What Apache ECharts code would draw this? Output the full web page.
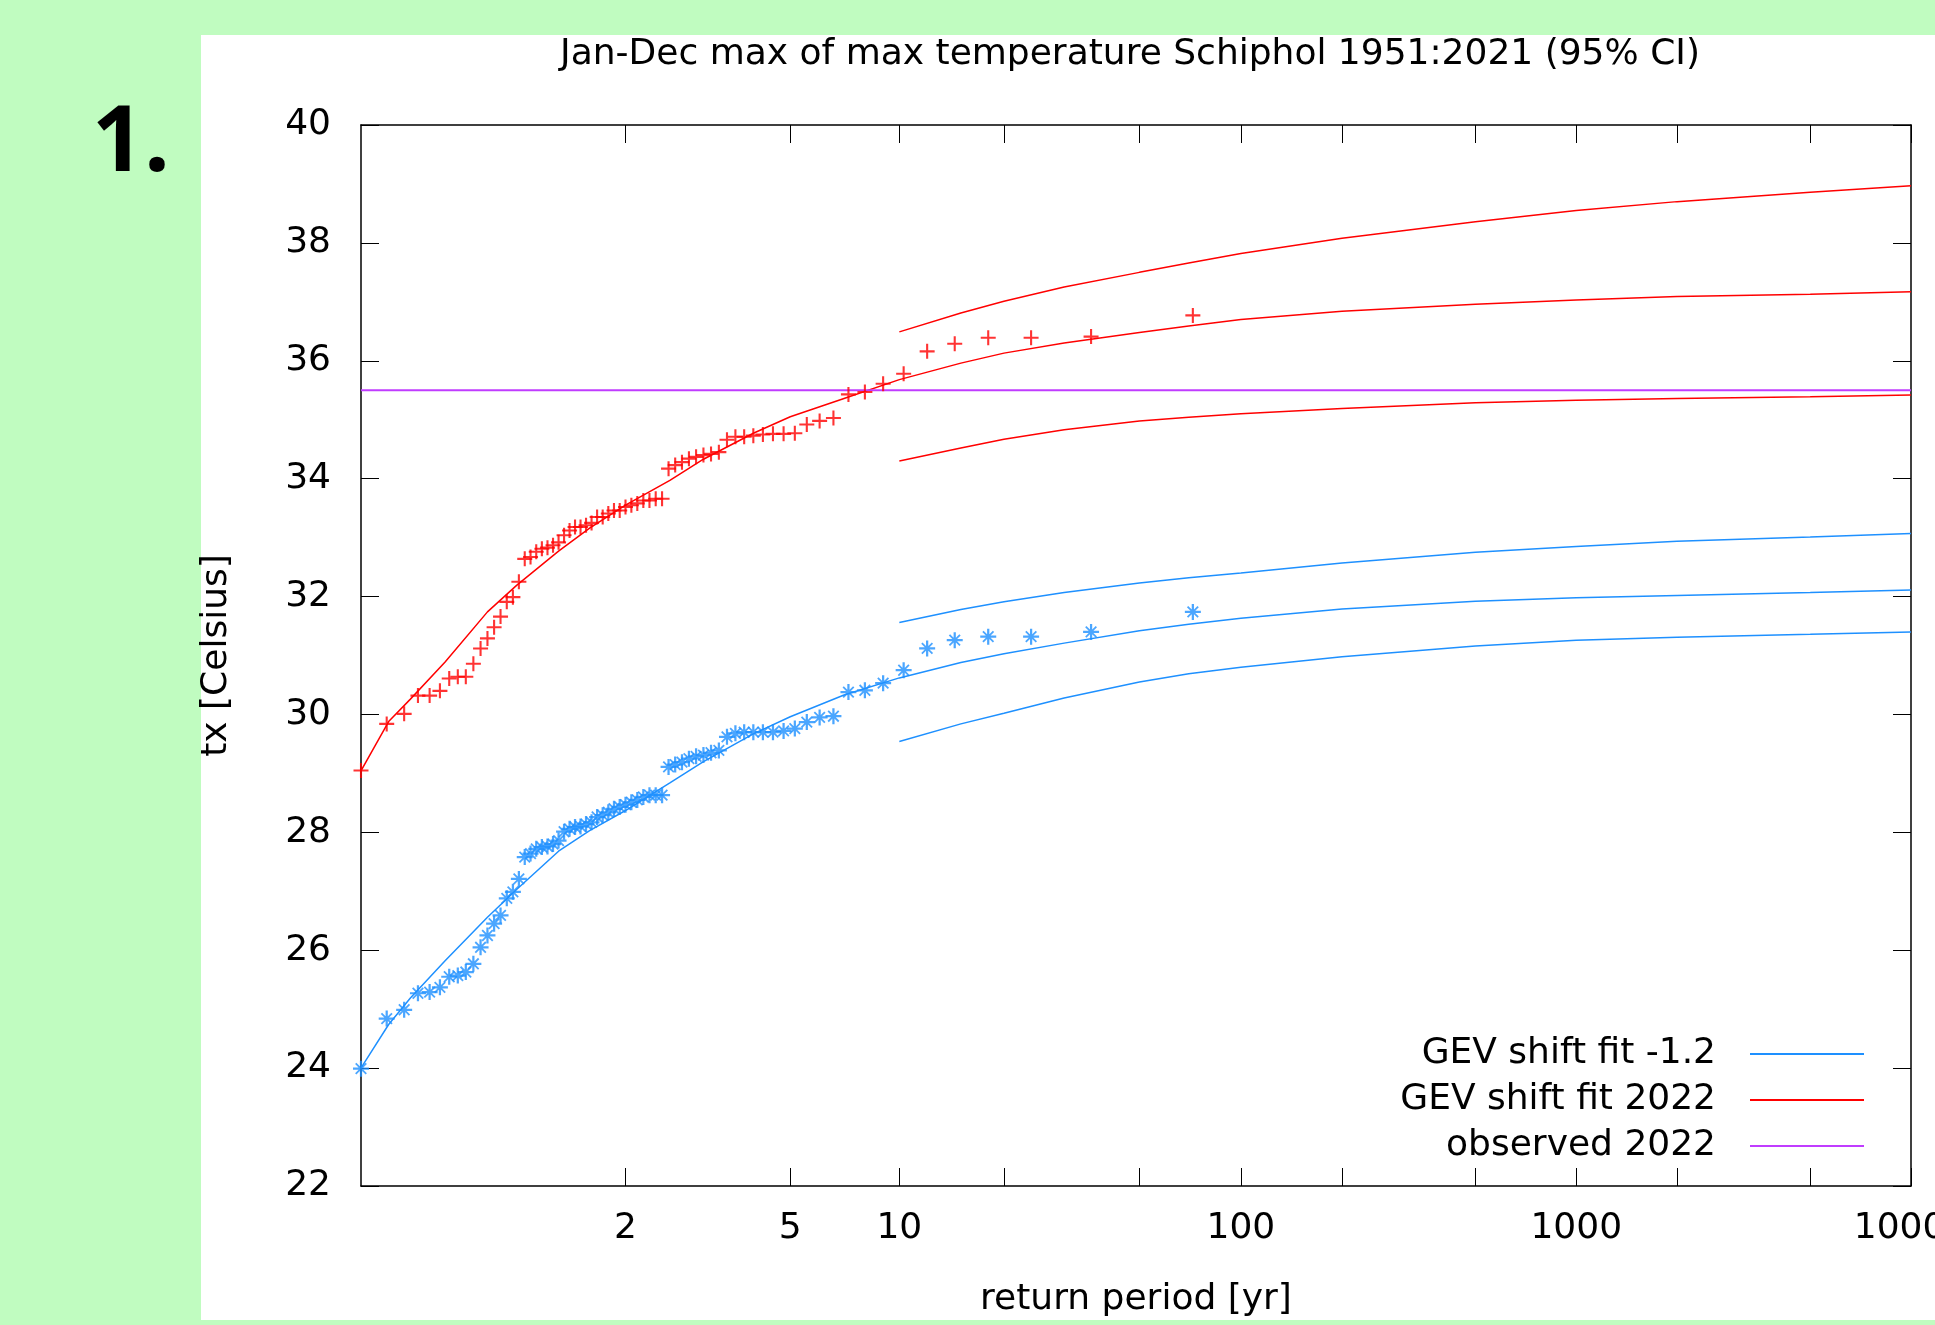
<!DOCTYPE html>
<html>
<head>
<meta charset="utf-8">
<script src="https://cdn.jsdelivr.net/npm/echarts@6/dist/echarts.min.js"></script>
<style>
html,body{margin:0;padding:0;background:#c0fcc0;}
#chart{width:1935px;height:1325px;}
</style>
</head>
<body>
<div id="chart"></div>
<script>
// ---- data ----
var titleText = 'Jan-Dec max of max temperature Schiphol 1951:2021 (95% CI)';
var nYears = 71;
// observed annual maxima shifted to 2022 climate, sorted ascending
var obs2022 = [29.05,29.84,30.01,30.32,30.32,30.40,30.61,30.64,30.64,30.86,
  31.12,31.29,31.48,31.66,31.91,31.99,32.25,32.64,32.67,32.76,
  32.81,32.83,32.87,32.92,33.04,33.12,33.18,33.18,33.21,33.25,
  33.35,33.35,33.41,33.46,33.46,33.52,33.55,33.58,33.63,33.63,
  33.66,33.66,34.17,34.23,34.28,34.34,34.37,34.40,34.42,34.45,
  34.66,34.71,34.71,34.73,34.75,34.76,34.76,34.77,34.92,34.98,
  35.03,35.43,35.47,35.61,35.78,36.16,36.29,36.39,36.39,36.41,36.77];
// observed annual maxima shifted to -1.2 climate, sorted ascending
var obsPast = [23.99,24.84,24.99,25.27,25.29,25.37,25.55,25.57,25.63,25.77,
  26.05,26.25,26.45,26.59,26.88,26.99,27.21,27.58,27.64,27.72,
  27.75,27.76,27.80,27.86,28.01,28.06,28.09,28.10,28.14,28.17,
  28.26,28.29,28.34,28.40,28.43,28.47,28.51,28.55,28.60,28.63,
  28.63,28.63,29.11,29.15,29.19,29.25,29.29,29.31,29.35,29.39,
  29.62,29.68,29.70,29.70,29.70,29.70,29.72,29.76,29.87,29.95,
  29.97,30.38,30.41,30.53,30.75,31.12,31.26,31.32,31.32,31.40,31.74];
// fitted return-level curves
var fitT = [1.0139,1.03,1.05,1.1,1.2,1.3,1.5,1.7,2,2.5,3,4,5,7,10,15,20,30,50,70,100,200,500,1000,2000,5000,10000];
var fit2022 = [29.03,29.88,30.26,30.89,31.74,32.19,32.77,33.16,33.55,33.97,34.33,34.77,35.05,35.36,35.68,35.96,36.13,36.30,36.48,36.59,36.70,36.84,36.96,37.03,37.09,37.13,37.17];
var fitPast = [23.99,24.74,25.19,25.82,26.56,27.03,27.68,28.03,28.37,28.84,29.20,29.67,29.96,30.33,30.62,30.88,31.03,31.21,31.42,31.53,31.63,31.79,31.92,31.98,32.02,32.07,32.11];
// 95% confidence bounds
var ciT = [10,15,20,30,50,70,100,200,500,1000,2000,5000,10000];
var ci2022Upper = [36.49,36.81,37.01,37.25,37.50,37.66,37.82,38.08,38.36,38.55,38.70,38.86,38.97];
var ci2022Lower = [34.30,34.52,34.67,34.83,34.98,35.04,35.10,35.19,35.29,35.33,35.36,35.39,35.42];
var ciPastUpper = [31.56,31.78,31.91,32.07,32.23,32.32,32.40,32.57,32.75,32.85,32.94,33.01,33.07];
var ciPastLower = [29.54,29.84,30.02,30.28,30.55,30.69,30.80,30.98,31.16,31.26,31.31,31.36,31.40];
var observed2022 = 35.5;
// axis ticks
var xTickT = [2,5,10,20,50,100,200,500,1000,2000,5000,10000];
var xLabelT = [2,5,10,100,1000,10000];
var xMaxT = 10000;
var yMin = 22, yMax = 40, yStep = 2;
var legendNames = ['GEV shift fit -1.2','GEV shift fit 2022','observed 2022'];

// ---- scale: Gumbel reduced variate of return period ----
function gumbel(T){ return -Math.log(-Math.log(1 - 1/T)); }
function invGumbel(y){ return 1/(1 - Math.exp(-Math.exp(-y))); }
function plotT(i){ return (nYears + 1)/(nYears - i); } // i = 0..n-1, ascending rank

function curve(Ts, vals){ return Ts.map(function(T,i){ return [gumbel(T), vals[i]]; }); }
function points(vals){ return vals.map(function(v,i){ return [gumbel(plotT(i)), v]; }); }

var xMin = gumbel(plotT(0));
var xMax = gumbel(xMaxT);

var RED = '#ff0000', BLUE = '#1e90ff', PURPLE = '#c03cff';
var FONT = 'DejaVu Sans';
var FS = 36;
var plusPath = 'path://M0,43 L100,43 L100,57 L0,57 Z M43,0 L57,0 L57,100 L43,100 Z';
var starPath = 'path://M0,43 L100,43 L100,57 L0,57 Z M43,0 L57,0 L57,100 L43,100 Z M13,21 L21,13 L87,79 L79,87 Z M79,13 L87,21 L21,87 L13,79 Z';

var chart = echarts.init(document.getElementById('chart'), null, {renderer:'canvas'});

var tickStyle = {show:true, inside:true, length:18, lineStyle:{color:'#000', width:1}};
var axisLineStyle = {show:true, onZero:false, lineStyle:{color:'#000', width:1.5}};

function lineSeries(name, data, color, width){
  return {name:name, type:'line', data:data, showSymbol:false, symbol:'none',
    color:color, lineStyle:{color:color, width:width||1.5}, silent:true, z:3};
}

var option = {
  animation:false,
  backgroundColor:'#c0fcc0',
  graphic:[
    {type:'rect', shape:{x:201, y:35, width:1734, height:1285}, style:{fill:'#ffffff'}, z:-10, silent:true},
    {type:'text', x:92, y:145, style:{text:'1.', font:'bold 91px "Open Sans"', fill:'#000', textAlign:'left', textVerticalAlign:'middle'}, z:10},
    {type:'text', x:1130, y:55, style:{text:titleText, font:'36px "DejaVu Sans"', fill:'#000', textAlign:'center', textVerticalAlign:'middle'}, z:10}
  ],
  grid:{left:361, right:24, top:125, bottom:139, show:false, containLabel:false, outerBoundsMode:'none'},
  legend:{
    data:legendNames, orient:'vertical', right:66, top:1029, align:'right',
    icon:'rect', itemWidth:114, itemHeight:2, itemGap:6,
    textStyle:{fontFamily:FONT, fontSize:FS, color:'#000', lineHeight:40, padding:[0,29,0,0]},
    selectedMode:false
  },
  xAxis:[{
    type:'value', min:xMin, max:xMax, position:'bottom',
    name:'return period [yr]', nameLocation:'middle', nameGap:96,
    nameTextStyle:{fontFamily:FONT, fontSize:FS, color:'#000'},
    axisLine:axisLineStyle,
    axisTick:Object.assign({customValues:xTickT.map(gumbel)}, tickStyle),
    axisLabel:{customValues:xLabelT.map(gumbel), fontFamily:FONT, fontSize:FS, color:'#000', margin:25,
      formatter:function(v){ return String(Math.round(invGumbel(v))); }},
    splitLine:{show:false}
  },{
    type:'value', min:xMin, max:xMax, position:'top',
    axisLine:axisLineStyle,
    axisTick:Object.assign({customValues:xTickT.map(gumbel)}, tickStyle),
    axisLabel:{show:false}, splitLine:{show:false}
  }],
  yAxis:[{
    type:'value', min:yMin, max:yMax, interval:yStep, position:'left',
    name:'tx [Celsius]', nameLocation:'middle', nameGap:126, nameRotate:90,
    nameTextStyle:{fontFamily:FONT, fontSize:FS, color:'#000'},
    axisLine:axisLineStyle, axisTick:tickStyle,
    axisLabel:{fontFamily:FONT, fontSize:FS, color:'#000', margin:30},
    splitLine:{show:false}
  },{
    type:'value', min:yMin, max:yMax, interval:yStep, position:'right',
    axisLine:axisLineStyle, axisTick:tickStyle,
    axisLabel:{show:false}, splitLine:{show:false}
  }],
  series:[
    lineSeries('GEV shift fit -1.2', curve(fitT, fitPast), BLUE),
    lineSeries('past upper', curve(ciT, ciPastUpper), BLUE),
    lineSeries('past lower', curve(ciT, ciPastLower), BLUE),
    lineSeries('GEV shift fit 2022', curve(fitT, fit2022), RED),
    lineSeries('2022 upper', curve(ciT, ci2022Upper), RED),
    lineSeries('2022 lower', curve(ciT, ci2022Lower), RED),
    lineSeries('observed 2022', [[xMin, observed2022],[xMax, observed2022]], PURPLE, 2),
    {name:'obs 2022', type:'scatter', data:points(obs2022), symbol:plusPath, symbolSize:15,
      itemStyle:{color:RED}, silent:true, z:4, clip:false},
    {name:'obs past', type:'scatter', data:points(obsPast), symbol:starPath, symbolSize:16,
      itemStyle:{color:BLUE}, silent:true, z:4, clip:false}
  ]
};
chart.setOption(option);
</script>
</body>
</html>
